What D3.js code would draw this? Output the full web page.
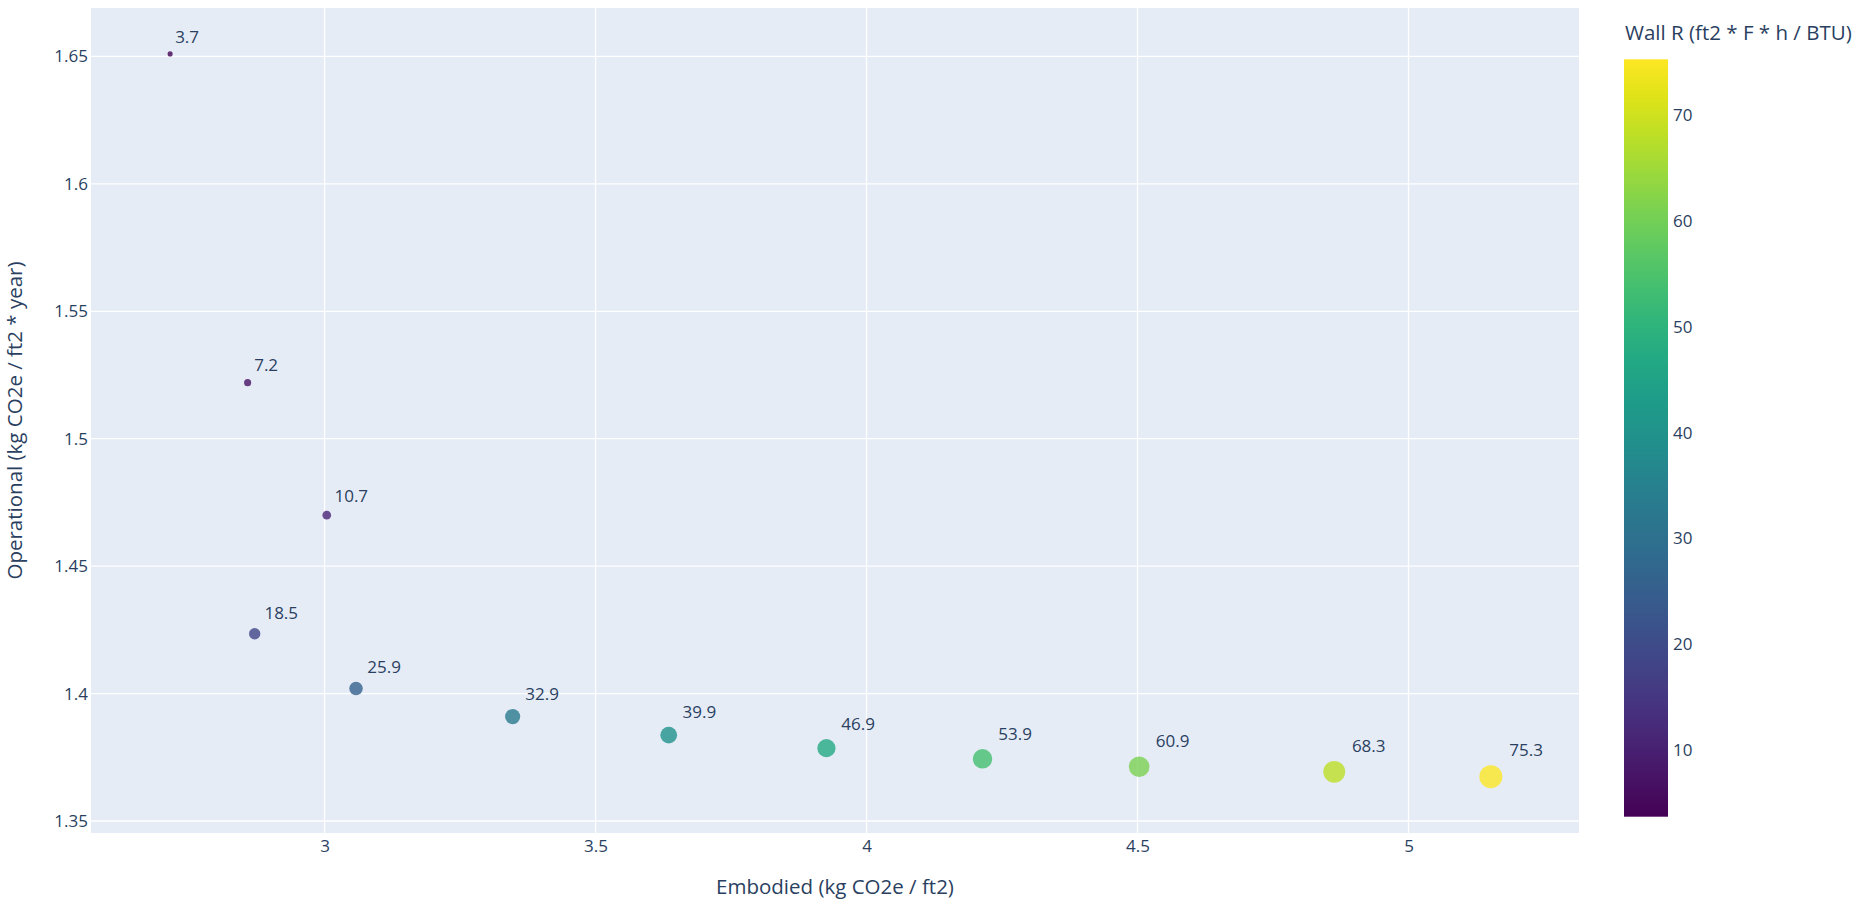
<!DOCTYPE html>
<html>
<head>
<meta charset="utf-8">
<script src="https://cdn.jsdelivr.net/npm/d3@7/dist/d3.min.js"></script>
<style>
  html, body { margin: 0; padding: 0; background: #ffffff; }
  svg { display: block; font-family: "Open Sans", "Noto Sans", sans-serif; }
</style>
</head>
<body>
<svg id="chart" width="1864" height="908"></svg>
<script>
// Wall insulation R-value for each assembly option
const wallR = [3.7, 7.2, 10.7, 18.5, 25.9, 32.9, 39.9, 46.9, 53.9, 60.9, 68.3, 75.3];
// Embodied carbon (kg CO2e / ft2)
const embodied = [2.715, 2.858, 3.004, 2.871, 3.058, 3.347, 3.635, 3.926, 4.214, 4.503, 4.863, 5.152];
// Operational carbon (kg CO2e / ft2 * year)
const operational = [1.651, 1.522, 1.470, 1.4235, 1.402, 1.391, 1.3837, 1.3786, 1.3744, 1.3713, 1.3693, 1.3674];

const xTicks = [3, 3.5, 4, 4.5, 5];
const yTicks = [1.35, 1.4, 1.45, 1.5, 1.55, 1.6, 1.65];
const cbTicks = [10, 20, 30, 40, 50, 60, 70];

const xTitle = "Embodied (kg CO2e / ft2)";
const yTitle = "Operational (kg CO2e / ft2 * year)";
const cbTitle = "Wall R (ft2 * F * h / BTU)";

const points = wallR.map((r, i) => ({ r, x: embodied[i], y: operational[i] }));

const svg = d3.select("#chart");
const textColor = "#2a3f5f";

// plotting area
const plot = { left: 91, top: 8, right: 1579, bottom: 833 };

const x = d3.scaleLinear().domain([2.569, 5.3146]).range([plot.left, plot.right]);
const y = d3.scaleLinear().domain([1.3453, 1.669]).range([plot.bottom, plot.top]);
const rExtent = d3.extent(wallR);
const color = d3.scaleSequential(d3.interpolateViridis).domain(rExtent);
const size = d3.scaleSqrt().domain([0, rExtent[1]]).range([0, 11.5]);

// background
svg.append("rect")
  .attr("x", plot.left).attr("y", plot.top)
  .attr("width", plot.right - plot.left).attr("height", plot.bottom - plot.top)
  .attr("fill", "#e5ecf6");

// grid
const grid = svg.append("g").attr("stroke", "#ffffff").attr("stroke-width", 1.3);
grid.selectAll("line.gx").data(xTicks).join("line")
  .attr("x1", d => x(d)).attr("x2", d => x(d))
  .attr("y1", plot.top).attr("y2", plot.bottom);
grid.selectAll("line.gy").data(yTicks).join("line")
  .attr("y1", d => y(d)).attr("y2", d => y(d))
  .attr("x1", plot.left).attr("x2", plot.right);

// axes (labels only, no domain line or tick marks)
const xAxis = svg.append("g")
  .attr("transform", `translate(0,${plot.bottom})`)
  .call(d3.axisBottom(x).tickValues(xTicks).tickFormat(d3.format("~g")).tickSize(0).tickPadding(7));
const yAxis = svg.append("g")
  .attr("transform", `translate(${plot.left},0)`)
  .call(d3.axisLeft(y).tickValues(yTicks).tickFormat(d3.format("~g")).tickSize(0).tickPadding(3));
[xAxis, yAxis].forEach(a => {
  a.select(".domain").remove();
  a.selectAll("text").attr("fill", textColor).attr("font-size", 17)
    .attr("font-family", "'Open Sans', sans-serif");
});

// axis titles
svg.append("text")
  .attr("x", (plot.left + plot.right) / 2).attr("y", 894)
  .attr("text-anchor", "middle").attr("font-size", 20.5).attr("fill", textColor)
  .text(xTitle);
svg.append("text")
  .attr("transform", `translate(22,${(plot.top + plot.bottom) / 2}) rotate(-90)`)
  .attr("text-anchor", "middle").attr("font-size", 20.5).attr("fill", textColor)
  .text(yTitle);

// markers
svg.append("g").selectAll("circle").data(points).join("circle")
  .attr("cx", d => x(d.x)).attr("cy", d => y(d.y))
  .attr("r", d => size(d.r))
  .attr("fill", d => color(d.r))
  .attr("fill-opacity", 0.8);

// value labels placed above-right of each marker
svg.append("g").selectAll("text").data(points).join("text")
  .attr("x", d => x(d.x) + 1.2 + 1.5 * size(d.r))
  .attr("y", d => y(d.y) - 8 - 1.12 * size(d.r))
  .attr("font-size", 17).attr("fill", textColor)
  .text(d => d3.format(".1f")(d.r));

// colorbar
const cb = { left: 1624, width: 44, top: 59.3, bottom: 816.7 };
const cbScale = d3.scaleLinear().domain(rExtent).range([cb.bottom, cb.top]);
const grad = svg.append("defs").append("linearGradient")
  .attr("id", "cbGrad").attr("x1", 0).attr("y1", 1).attr("x2", 0).attr("y2", 0);
d3.range(0, 1.0001, 0.05).forEach(t => {
  grad.append("stop").attr("offset", t).attr("stop-color", d3.interpolateViridis(t));
});
svg.append("rect")
  .attr("x", cb.left).attr("y", cb.top)
  .attr("width", cb.width).attr("height", cb.bottom - cb.top)
  .attr("fill", "url(#cbGrad)");
const cbAxis = svg.append("g")
  .attr("transform", `translate(${cb.left + cb.width},0)`)
  .call(d3.axisRight(cbScale).tickValues(cbTicks).tickSize(0).tickPadding(5));
cbAxis.select(".domain").remove();
cbAxis.selectAll("text").attr("fill", textColor).attr("font-size", 17)
  .attr("font-family", "'Open Sans', sans-serif");
svg.append("text")
  .attr("x", 1625).attr("y", 40)
  .attr("font-size", 20.5).attr("fill", textColor)
  .text(cbTitle);
</script>
</body>
</html>
